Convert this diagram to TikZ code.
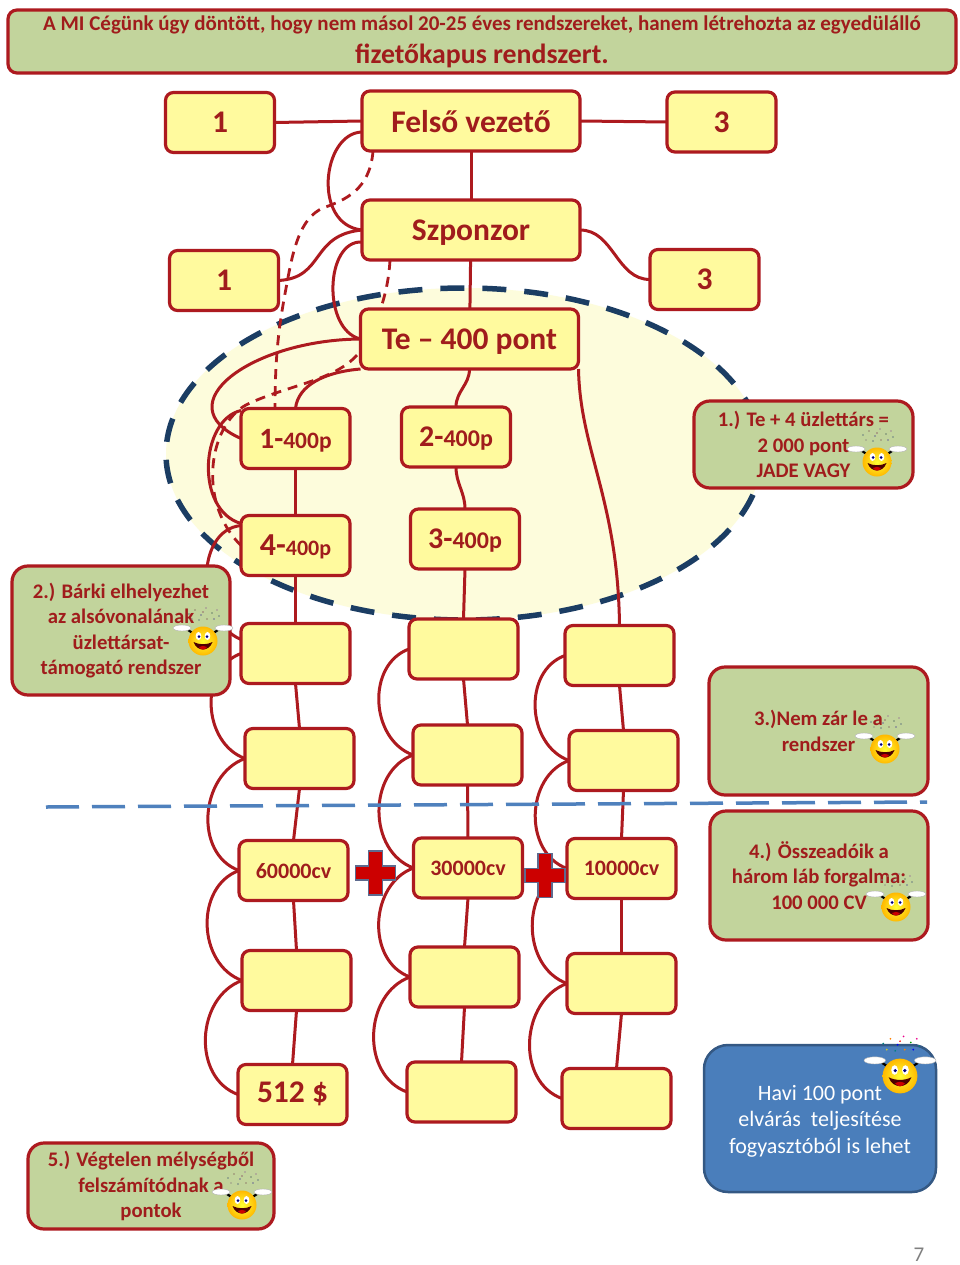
\documentclass[tikz,border=0pt]{standalone}
\usepackage{fontspec}
\setmainfont{Carlito}
\usetikzlibrary{arrows.meta,positioning,backgrounds,calc}
\definecolor{linkred}{HTML}{AD1A1F}
\definecolor{textred}{HTML}{A01C1C}
\definecolor{boxyellow}{HTML}{FFFA9E}
\definecolor{notegreen}{HTML}{C2D49C}
\definecolor{zonefill}{HTML}{FDFCDC}
\definecolor{zoneline}{HTML}{1B3D63}
\definecolor{levelblue}{HTML}{4F81BD}
\definecolor{tipblue}{HTML}{4A7EBB}
\definecolor{plusedge}{HTML}{5E6A8E}
\newcommand{\fs}[1]{\fontsize{#1}{#1}\selectfont}

\begin{document}
\begin{tikzpicture}[
    x=1pt, y=-1pt,
    box/.style={draw=linkred, line width=3.2pt, fill=boxyellow, rounded corners=8pt, outer sep=0pt, inner sep=0pt, minimum width=109pt, minimum height=60pt, text=textred, text depth=0pt, font=\bfseries\fontsize{22}{24}\selectfont},
    wide/.style={box, minimum width=218pt},
    big/.style={font=\bfseries\fontsize{31.5}{32}\selectfont},
    note/.style={draw=linkred, line width=3.2pt, fill=notegreen, rounded corners=16pt, outer sep=0pt, inner sep=0pt, text=textred, align=center, font=\bfseries\fontsize{20.7}{25.3}\selectfont},
    link/.style={draw=linkred, line width=3pt},
    dashlink/.style={link, line width=2.8pt, dash pattern=on 10pt off 7pt},
    sidearc/.style={out=200, in=160, looseness=1.1},
    pics/smiley/.style={code={
        \foreach \dx/\dy/\dotc in {-14/-27/teal, -8/-31/orange, -2/-26/blue, 3/-33/magenta, 9/-28/green!60!black, 14/-31/magenta, -11/-22/yellow!80!black, -4/-21/teal, 4/-22/orange, 11/-22/blue, 16/-25/teal, 0/-29/red}
            \fill[\dotc!#1!gray] (\dx,\dy) circle (0.8);
        \draw[black, line width=2.2pt] (-15,-11) -- (-9,-7);
        \draw[black, line width=2.2pt] (15,-11) -- (9,-7);
        \draw[gray!60, fill=white, line width=0.4pt] (-21,-13) ellipse [x radius=9, y radius=3];
        \draw[gray!60, fill=white, line width=0.4pt] (21,-13) ellipse [x radius=9, y radius=3];
        \shade[inner color=yellow!80!white, middle color=yellow, outer color=orange!55!yellow] (0,0) circle (14.5);
        \fill[white] (-4.5,-5) ellipse [x radius=2.8, y radius=4];
        \fill[white] (4.5,-5) ellipse [x radius=2.8, y radius=4];
        \fill[blue!50!black] (-4,-4.5) circle (1.5);
        \fill[blue!50!black] (4,-4.5) circle (1.5);
        \fill[black!70!red] (-9.5,1) .. controls (-6,11) and (6,11) .. (9.5,1) .. controls (4,4) and (-4,4) .. (-9.5,1) -- cycle;
        \fill[red!80!black] (-4,6) .. controls (-2,9.5) and (2,9.5) .. (4,6) .. controls (1,4.5) and (-1,4.5) .. (-4,6) -- cycle;
    }},
    pics/plusmark/.style={code={
        \draw[draw=plusedge, fill=red!80!black, line width=1.6pt]
            (-7,-22) -- (7,-22) -- (7,-7) -- (20,-7) -- (20,7) -- (7,7) -- (7,22) -- (-7,22)
            -- (-7,7) -- (-20,7) -- (-20,-7) -- (-7,-7) -- cycle;
    }}
]
\useasboundingbox (0,0) rectangle (960,1265);

% Title
\node[note, rounded corners=9pt, minimum width=948pt, minimum height=63pt, font=\bfseries] (title) at (482,41.5)
    {\fs{21}A MI Cégünk úgy döntött, hogy nem másol 20-25 éves rendszereket, hanem létrehozta az egyedülálló\\[9pt]\fs{27.8}fizetőkapus rendszert.};

% Upline
\node[wide, big] (felso) at (471,121) {Felső vezető};
\node[box, big] (boss1) at (220,122.5) {1};
\node[box, big] (boss3) at (721.5,122) {3};
\node[wide, big, below=49pt of felso] (szponzor) {Szponzor};
\node[box, big] (sec1) at (224,280.5) {1};
\node[box, big] (sec3) at (704.5,279.5) {3};
\node[wide, big, below=49pt of szponzor, xshift=-1.5pt] (te) {Te – 400 pont};

% First level
\node[box] (t1) at (295.5,438.5) {\fs{29.5}1-\fs{23.5}400p};
\node[box, below=47pt of t1] (t4) {\fs{32}4-\fs{22}400p};
\node[box] (t2) at (456,437) {\fs{30}2-\fs{24}400p};
\node[box, below=42pt of t2, xshift=9pt] (t3) {\fs{30}3-\fs{24}400p};

% Left leg
\node[box, below=48pt of t4] (c1a) {};
\node[box, below=45pt of c1a, xshift=4pt] (c1b) {};
\node[box, below=52pt of c1b, xshift=-6pt] (c1c) {60000cv};
\node[box, below=50pt of c1c, xshift=3pt] (c1d) {};
\node[box, below=54pt of c1d, xshift=-4pt, big, text depth=5pt] (c1e) {512 \$};

% Middle leg
\node[box, below=50pt of t3, xshift=-1.5pt] (c2a) {};
\node[box, below=46pt of c2a, xshift=4pt] (c2b) {};
\node[box, below=53pt of c2b, xshift=0.5pt] (c2c) {30000cv};
\node[box, below=49pt of c2c, xshift=-3.5pt] (c2d) {};
\node[box, below=55pt of c2d, xshift=-3pt] (c2e) {};

% Right leg
\node[box] (c3a) at (619.5,655.5) {};
\node[box, below=45pt of c3a, xshift=4pt] (c3b) {};
\node[box, below=48pt of c3b, xshift=-2pt] (c3c) {10000cv};
\node[box, below=55pt of c3c] (c3d) {};
\node[box, below=55pt of c3d, xshift=-5pt] (c3e) {};

% Notes
\node[note, minimum width=219pt, minimum height=87pt] (note1) at (803.5,444.5) {1.) Te + 4 üzlettárs =\\2 000 pont\\JADE VAGY};
\node[note, minimum width=218pt, minimum height=129pt] (note2) at (121,630.5) {2.) Bárki elhelyezhet\\az alsóvonalának\\üzlettársat-\\támogató rendszer};
\node[note, minimum width=219pt, minimum height=128pt] (note3) at (818.5,731) {3.)Nem zár le a\\rendszer};
\node[note, minimum width=218pt, minimum height=129pt] (note4) at (819,875.5) {4.) Összeadóik a\\három láb forgalma:\\100 000 CV};
\node[note, minimum width=246pt, minimum height=86pt] (note5) at (151,1186) {5.) Végtelen mélységből\\felszámítódnak a\\pontok};
\node[draw=tipblue!70!black, line width=2.5pt, fill=tipblue, rounded corners=24pt, minimum width=232pt, minimum height=147pt, inner sep=0pt, outer sep=0pt, text=white, align=center, font=\fontsize{22}{26.6}\selectfont] (tip) at (820,1118.5) {\rule{0pt}{20pt}Havi 100 pont\\elvárás\ \ teljesítése\\fogyasztóból is lehet};
\node[text=gray, font=\fontsize{21}{24}\selectfont] (page) at (919,1255) {7};

% Cheering faces
\pic at (877,462) {smiley=15};
\pic at (203,641) {smiley=15};
\pic at (885,749) {smiley=15};
\pic at (896,907) {smiley=15};
\pic at (242,1205) {smiley=15};
\pic[scale=1.2] at (900,1076) {smiley=100};

% Plus marks and level line
\pic at (375.5,873) {plusmark};
\pic at (545,875.5) {plusmark};
\draw[levelblue, line width=3.5pt, dash pattern=on 33pt off 13pt] (46,807) -- (927,802);

\begin{pgfonlayer}{background}
\fill[white] (0,0) rectangle (960,1265);
\draw[fill=zonefill, draw=zoneline, line width=5.5pt, dash pattern=on 24pt off 18pt] (464,454) ellipse [x radius=298, y radius=166];

% Connections
\draw[link] (boss1.east) -- (felso.west);
\draw[link] (felso.east) -- (boss3.west);
\draw[link] (felso) -- (szponzor);
\draw[link] (szponzor) -- (te);
\draw[link] (szponzor.east) to[out=0, in=180] (sec3.west);
\draw[link] ($(felso.west)+(0,11)$) .. controls (322,133) and (312,225) .. (szponzor.west);
\draw[link] (sec1.east) .. controls (325,278) and (310,235) .. (szponzor.west);
\draw[link] ($(szponzor.west)+(0,12)$) .. controls (325,240) and (322,330) .. (te.west);
\draw[link] (te.west) .. controls (250,340) and (165,405) .. (t1.west);
\draw[link] (te.south west) .. controls (325,372) and (298,385) .. (t1.north);
\draw[link] ($(t1.north west)+(0,2)$) .. controls (200,420) and (195,510) .. ($(t4.north west)+(0,8)$);
\draw[link] (te.south) to[out=270, in=90] (t2.north);
\draw[link] (te.south east) .. controls (580,450) and (618,500) .. (c3a.north);
\draw[link] ($(t4.north west)+(0,10)$) .. controls (195,530) and (195,620) .. ($(c1a.west)+(0,-14)$);
\draw[dashlink] ($(felso.south west)+(11,0)$) .. controls (370,190) and (345,200) .. (323,208) .. controls (300,218) and (293,250) .. (287,283) .. controls (280,320) and (275,350) .. ($(t1.north west)+(34,0)$);
\draw[dashlink] ($(szponzor.south west)+(28,0)$) .. controls (388,300) and (372,335) .. (357,355) .. controls (335,380) and (290,385) .. (250,403) .. controls (210,420) and (195,500) .. (t4.west);

% Vertical lines of the three legs
\draw[link] (t1) -- (t4);
\draw[link] (t2.south) to[out=270, in=90] (t3.north);
\foreach \a/\b in {t4/c1a, c1a/c1b, c1b/c1c, c1c/c1d, c1d/c1e, t3/c2a, c2a/c2b, c2b/c2c, c2c/c2d, c2d/c2e, c3a/c3b, c3b/c3c, c3c/c3d, c3d/c3e}
    \draw[link] (\a.south) -- (\b.north);

% Side arcs
\foreach \a/\b in {c1a/c1b, c1b/c1c, c1c/c1d, c1d/c1e, c2a/c2b, c2b/c2c, c2c/c2d, c2d/c2e, c3a/c3b, c3b/c3c, c3c/c3d, c3d/c3e}
    \draw[link] (\a.west) to[sidearc] (\b.west);
\end{pgfonlayer}

\end{tikzpicture}
\end{document}
